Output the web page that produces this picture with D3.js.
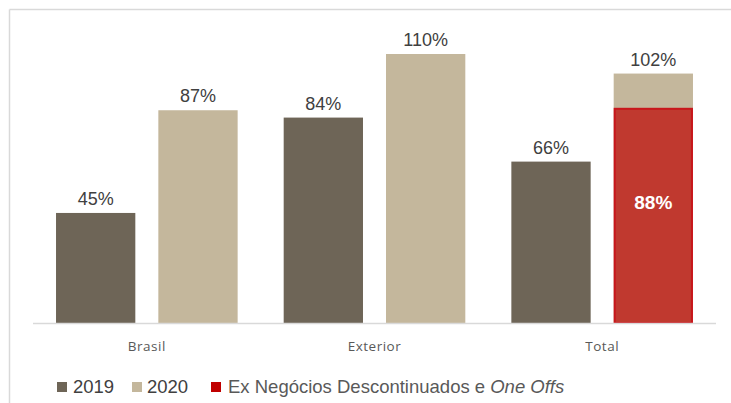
<!DOCTYPE html>
<html>
<head>
<meta charset="utf-8">
<script src="https://cdn.jsdelivr.net/npm/d3@7"></script>
<style>
  body { margin: 0; background: #ffffff; }
  svg { display: block; font-family: "Liberation Sans", Arial, sans-serif; }
</style>
</head>
<body>
<div class="chart"></div>
<script>
// Chart data
const categories = ["Brasil", "Exterior", "Total"];
const seriesNames = ["2019", "2020"];
const values2019 = [45, 84, 66];
const values2020 = [87, 110, 102];
const exNegocios = [null, null, 88]; // overlay inside Total 2020
const legendLabels = ["2019", "2020", "Ex Negócios Descontinuados e "];
const legendItalic = "One Offs";

const W = 731, H = 403;
const colors = { "2019": "#6e6557", "2020": "#c4b79c", ex: "#c0392f", exStroke: "#c8161b", legendEx: "#c00000" };

const svg = d3.select(".chart").append("svg").attr("width", W).attr("height", H);

// frame (top + left only visible)
svg.append("line").attr("x1", 9.5).attr("x2", W).attr("y1", 9.5).attr("y2", 9.5)
  .attr("stroke", "#d9d9d9").attr("stroke-width", 1.5);
svg.append("line").attr("x1", 9.5).attr("x2", 9.5).attr("y1", 9.5).attr("y2", H)
  .attr("stroke", "#d9d9d9").attr("stroke-width", 1.5);

// scales
const x0 = d3.scaleBand().domain(categories).range([33, 716]).padding(0);
const x1 = d3.scaleBand().domain(seriesNames).range([0, x0.bandwidth()])
  .paddingInner(0.225).paddingOuter(0.225);
const y = d3.scaleLinear().domain([0, 110]).range([323, 54]);

// build rows
const data = [];
categories.forEach((c, i) => {
  data.push({ cat: c, s: "2019", v: values2019[i] });
  data.push({ cat: c, s: "2020", v: values2020[i] });
});

svg.selectAll(".bar")
  .data(data)
  .join("rect")
  .attr("class", "bar")
  .attr("x", d => x0(d.cat) + x1(d.s))
  .attr("y", d => y(d.v))
  .attr("width", x1.bandwidth())
  .attr("height", d => y(0) - y(d.v))
  .attr("fill", d => colors[d.s]);

// overlay red bar
const exData = categories.map((c, i) => ({ cat: c, v: exNegocios[i] })).filter(d => d.v != null);
svg.selectAll(".ex")
  .data(exData)
  .join("rect")
  .attr("class", "ex")
  .attr("x", d => x0(d.cat) + x1("2020") + 1)
  .attr("y", d => y(d.v) + 1)
  .attr("width", x1.bandwidth() - 2)
  .attr("height", d => y(0) - y(d.v) - 1)
  .attr("fill", colors.ex)
  .attr("stroke", colors.exStroke)
  .attr("stroke-width", 2);

svg.selectAll(".ex-label")
  .data(exData)
  .join("text")
  .attr("class", "ex-label")
  .attr("x", d => x0(d.cat) + x1("2020") + x1.bandwidth() / 2)
  .attr("y", 209)
  .attr("text-anchor", "middle")
  .style("font-size", "19px")
  .style("font-weight", "bold")
  .style("fill", "#ffffff")
  .text(d => d.v + "%");

// value labels
svg.selectAll(".val")
  .data(data)
  .join("text")
  .attr("class", "val")
  .attr("x", d => x0(d.cat) + x1(d.s) + x1.bandwidth() / 2)
  .attr("y", d => y(d.v) - 8)
  .attr("text-anchor", "middle")
  .style("font-size", "18px")
  .style("fill", "#404040")
  .text(d => d.v + "%");

// baseline
svg.append("line").attr("x1", 33).attr("x2", 716).attr("y1", 323.5).attr("y2", 323.5)
  .attr("stroke", "#d9d9d9").attr("stroke-width", 1.5);

// category labels
svg.selectAll(".cat")
  .data(categories)
  .join("text")
  .attr("class", "cat")
  .attr("x", d => x0(d) + x0.bandwidth() / 2)
  .attr("y", 351)
  .attr("text-anchor", "middle")
  .style("font-family", "'Open Sans', sans-serif")
  .style("font-size", "13.5px")
  .style("letter-spacing", "0.5px")
  .style("fill", "#595959")
  .text(d => d);

// legend
const legend = [
  { sq: 57, tx: 73, color: colors["2019"], label: legendLabels[0], fill: "#404040" },
  { sq: 132, tx: 147, color: colors["2020"], label: legendLabels[1], fill: "#404040" },
  { sq: 211, tx: 228, color: colors.legendEx, label: legendLabels[2], fill: "#595959" },
];
svg.selectAll(".lg-sq")
  .data(legend)
  .join("rect")
  .attr("x", d => d.sq)
  .attr("y", 382)
  .attr("width", 10)
  .attr("height", 10)
  .attr("fill", d => d.color);
const lt = svg.selectAll(".lg-tx")
  .data(legend)
  .join("text")
  .attr("x", d => d.tx)
  .attr("y", 393)
  .style("font-size", "18.5px")
  .style("fill", d => d.fill)
  .text(d => d.label);
lt.filter((d, i) => i === 2)
  .append("tspan")
  .style("font-style", "italic")
  .text(legendItalic);
</script>
</body>
</html>
